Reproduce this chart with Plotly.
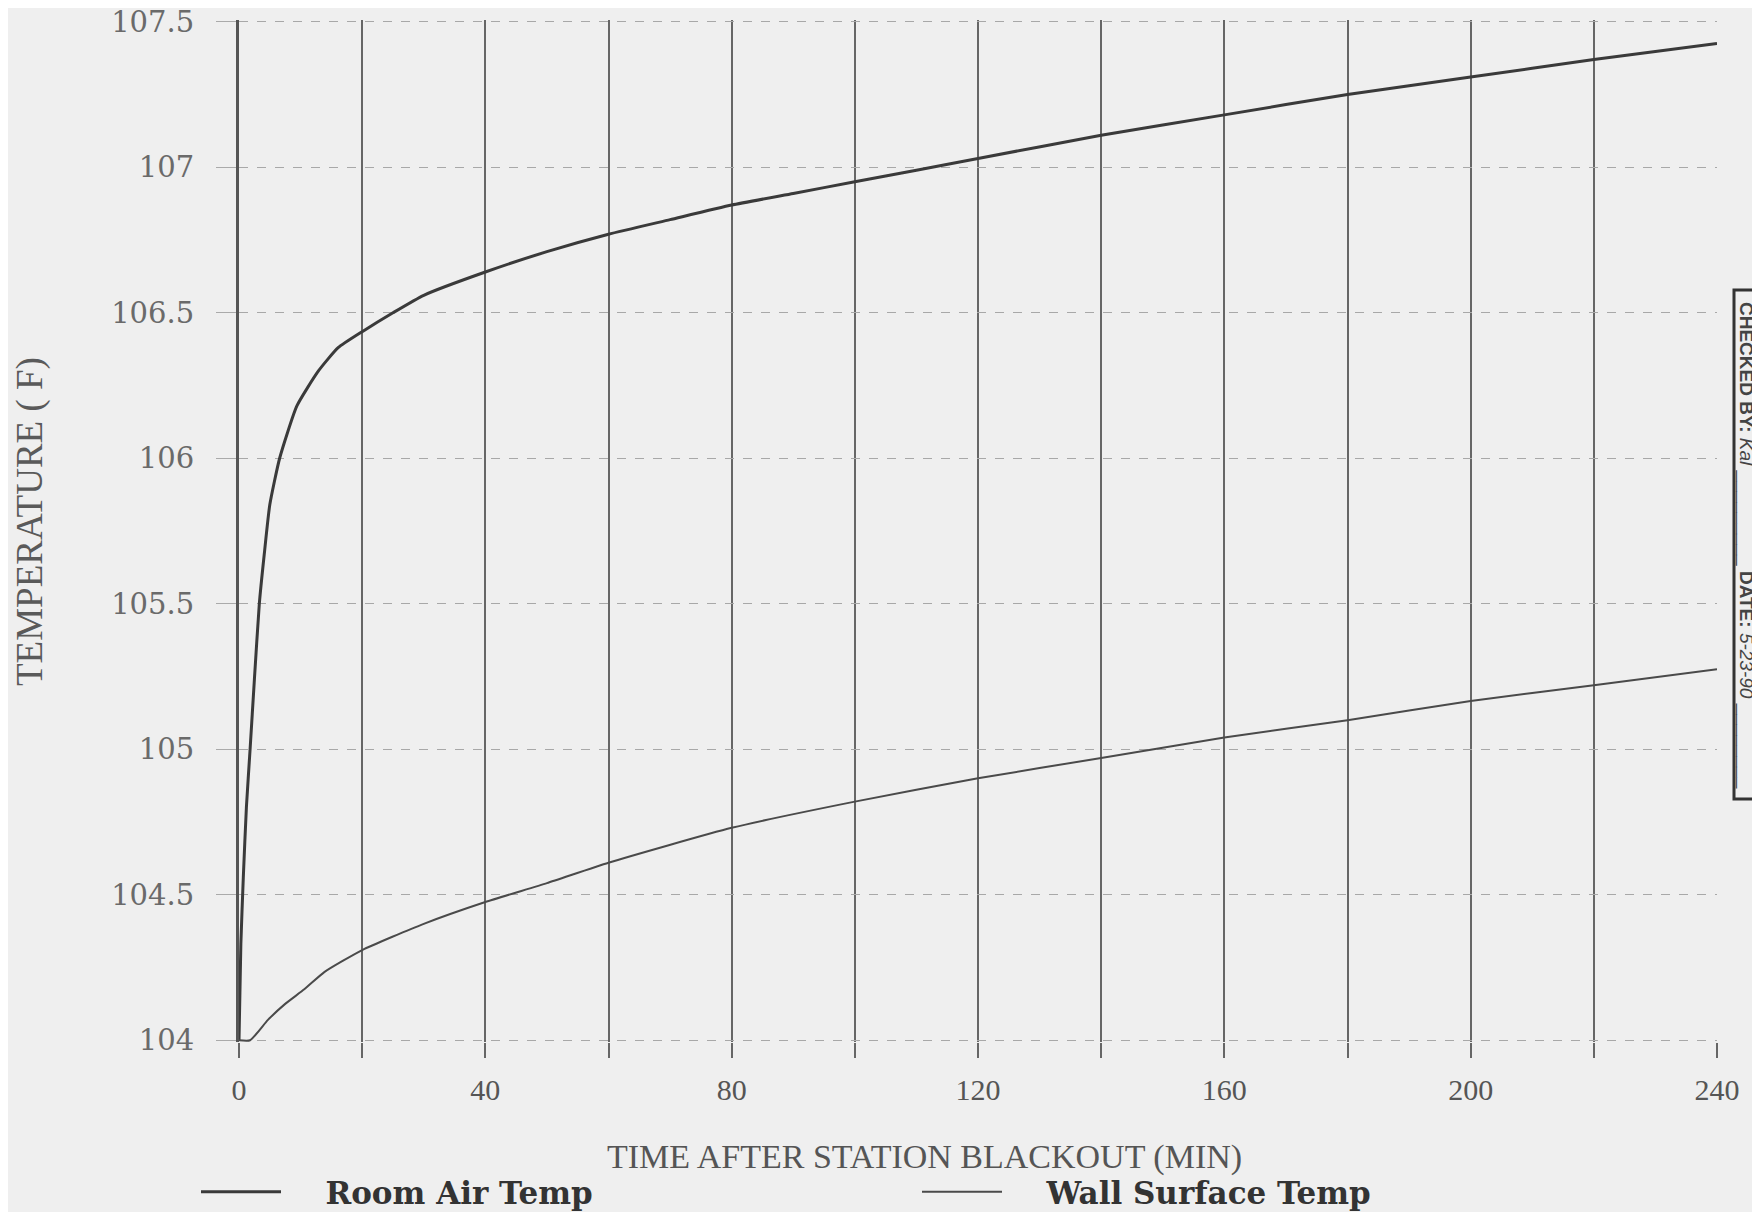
import plotly.graph_objects as go

# ---- data ----
room_t = [0, 0.3, 0.7, 1.2, 1.8, 2.5, 3.3, 4.1, 5.0, 6.6, 9.4, 12.9, 16.1, 20, 25, 30, 40, 50, 60,
          70, 80, 90, 100, 110, 120, 140, 160, 180, 200, 220, 240]
room_temp = [104.0, 104.33, 104.56, 104.8, 105.0, 105.24, 105.5, 105.67, 105.84, 106.0, 106.18,
             106.30, 106.38, 106.435, 106.50, 106.56, 106.64, 106.71, 106.77, 106.82, 106.87,
             106.91, 106.95, 106.99, 107.03, 107.11, 107.18, 107.25, 107.31, 107.37, 107.425]

wall_t = [0, 1.8, 4.7, 7.5, 10.6, 13.9, 20, 30, 40, 50, 60, 80, 100, 120, 140, 160, 180, 200, 220, 240]
wall_temp = [104.0, 104.0, 104.07, 104.125, 104.175, 104.235, 104.31, 104.40, 104.475, 104.54,
             104.61, 104.73, 104.82, 104.90, 104.97, 105.04, 105.10, 105.166, 105.22, 105.275]

x_ticks = [0, 40, 80, 120, 160, 200, 240]
y_ticks = [104, 104.5, 105, 105.5, 106, 106.5, 107, 107.5]
y_tick_text = ["104", "104.5", "105", "105.5", "106", "106.5", "107", "107.5"]

Y_MIN, Y_MAX = 103.994, 107.506   # slightly padded so edge gridlines are drawn

# page geometry (the html body has an 8px margin)
OFF = 8
W, H = 1760 - OFF, 1212 - OFF
PX_PER_DEG = 290.8
L_PAGE, R_PAGE = 239, 1717
T_PAGE = 22 - round((Y_MAX - 107.5) * PX_PER_DEG)
B_PAGE = 1040 + round((104 - Y_MIN) * PX_PER_DEG)
L, T = L_PAGE - OFF, T_PAGE - OFF
R = W - (R_PAGE - OFF)
B = H - (B_PAGE - OFF)
PW, PH = R_PAGE - L_PAGE, B_PAGE - T_PAGE


def px(xf):
    return (xf - L_PAGE) / PW


def py(yf):
    return (B_PAGE - yf) / PH


fig = go.Figure()
fig.add_trace(go.Scatter(x=room_t, y=room_temp, mode="lines",
                         name="\u00a0\u00a0\u00a0\u00a0<b>Room Air Temp</b>",
                         line=dict(color="#3a3a3a", width=3, shape="spline", smoothing=0.5)))
fig.add_trace(go.Scatter(x=wall_t, y=wall_temp, mode="lines",
                         name="\u00a0\u00a0\u00a0\u00a0<b>Wall Surface Temp</b>",
                         line=dict(color="#4a4a4a", width=2, shape="spline", smoothing=0.5)))

fig.update_xaxes(range=[0, 240], tickvals=x_ticks, ticktext=[str(v) for v in x_ticks],
                 showgrid=True, gridcolor="#666666", gridwidth=1.5,
                 ticks="outside", ticklen=15, tickcolor="#666666", tickwidth=1.5,
                 ticklabelstandoff=6,
                 tickfont=dict(family="Liberation Serif", size=30, color="#555555"),
                 minor=dict(dtick=20, tick0=0, showgrid=True, gridcolor="#666666", gridwidth=1.5,
                            ticks="outside", ticklen=15, tickcolor="#666666", tickwidth=1.5),
                 showline=False, zeroline=False)
fig.update_yaxes(range=[Y_MIN, Y_MAX], tickvals=y_ticks, ticktext=y_tick_text,
                 showgrid=True, gridcolor="#a8a8a8", gridwidth=1.2, griddash="dash",
                 ticks="outside", ticklen=20, tickcolor="#aaaaaa", tickwidth=1.2,
                 ticklabelstandoff=16, ticklabeloverflow="allow",
                 tickfont=dict(family="DejaVu Serif", size=29, color="#6a6a6a"),
                 showline=True, linecolor="#555555", linewidth=3, zeroline=False)

annotations = [
    dict(text="TEMPERATURE ( F)", xref="paper", yref="paper", x=px(30), y=py(522),
         xanchor="center", yanchor="middle", textangle=-90, showarrow=False,
         font=dict(family="Liberation Serif", size=37, color="#5a5a5a")),
    dict(text="TIME AFTER STATION BLACKOUT (MIN)", xref="paper", yref="paper", x=px(924), y=py(1157),
         xanchor="center", yanchor="middle", showarrow=False,
         font=dict(family="Liberation Serif", size=34, color="#555555")),
    dict(text="<b>CHECKED BY:</b> <i>Kal</i> _________ <b>DATE:</b> <i>5-23-90</i> ________",
         xref="paper", yref="paper", x=px(1746), y=py(545),
         xanchor="center", yanchor="middle", textangle=90, showarrow=False,
         font=dict(family="Liberation Sans", size=19, color="#444444")),
]

shapes = [
    dict(type="rect", xref="paper", yref="paper", x0=px(1734), x1=px(1790), y0=py(799), y1=py(290),
         line=dict(color="#333333", width=3), fillcolor="rgba(0,0,0,0)"),
]

fig.update_layout(
    width=W, height=H,
    margin=dict(l=L, r=R, t=T, b=B, autoexpand=False),
    paper_bgcolor="#efefef", plot_bgcolor="#efefef",
    showlegend=True,
    legend=dict(orientation="h", x=px(196), y=py(1192), xanchor="left", yanchor="middle",
                entrywidth=626, entrywidthmode="pixels", bgcolor="rgba(0,0,0,0)",
                font=dict(family="DejaVu Serif", size=31, color="#333333"),
                itemwidth=80),
    annotations=annotations,
    shapes=shapes,
)

fig.write_html("out.html")
